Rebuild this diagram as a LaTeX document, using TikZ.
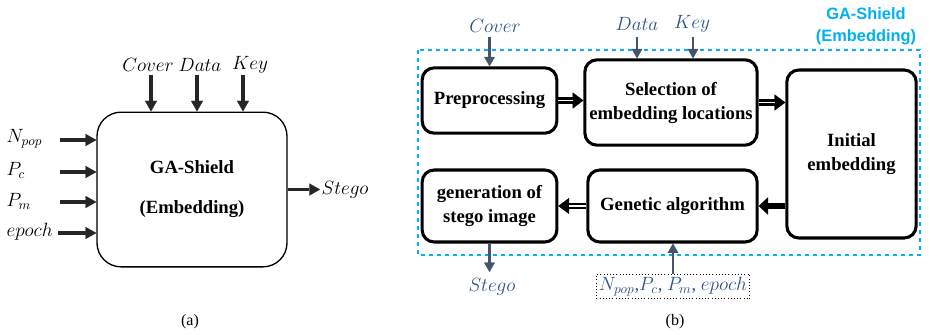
\documentclass[tikz,border=0pt]{standalone}
\usepackage{fontspec}
\setmainfont{Liberation Serif}
\newfontfamily\headfont{Liberation Sans}
\usetikzlibrary{arrows.meta}
\definecolor{gablue}{RGB}{0,176,240}
\definecolor{inarrow}{RGB}{68,84,106}
\definecolor{inlabel}{RGB}{47,84,130}
\begin{document}
\begin{tikzpicture}[x=0.75pt,y=-0.75pt]
        \tikzset{mainbox/.style = {draw, line width=1pt, rounded corners=18pt, align=center,
                 minimum width=142.5pt, minimum height=116pt, font=\fontsize{14}{30}\selectfont\bfseries}};
        \tikzset{blk/.style = {draw, line width=2.3pt, rounded corners=9pt, align=center,
                 font=\fontsize{14}{18}\selectfont\bfseries}};
        \tikzset{lbl/.style = {inner sep=1pt, font=\fontsize{14}{16}\selectfont}};
        \tikzset{lblb/.style = {lbl, text=inlabel}};
        \tikzset{inp/.style = {draw=black!85, line width=2.6pt, -{Triangle[length=8pt,width=9pt,line width=0.1pt]}}};
        \tikzset{inb/.style = {draw=inarrow, line width=1.9pt, -{Triangle[length=7pt,width=8pt,line width=0.1pt]}}};
        \tikzset{dblarr/.style = {line width=5.2pt, -{Triangle[length=8pt,width=12pt,line width=0.1pt]},
                 postaction={draw=white, line width=0.8pt, -, shorten >=8pt}}};
        \tikzset{fatarr/.style = {line width=5.2pt, -{Triangle[length=7pt,width=13pt,line width=0.1pt]}}};
        \useasboundingbox (0,0) rectangle (931,335);
        % (a)
        \node[mainbox] (shield) at (192,189.5) {GA-Shield\\(Embedding)};
        \node[lbl] (coverA) at (148,65) {$Cover$};
        \node[lbl] (dataA) at (200,65) {$Data$};
        \node[lbl] (keyA) at (250,65) {$Key$};
        \coordinate (cA) at (151,75);
        \coordinate (dA) at (197,75);
        \coordinate (kA) at (243,75);
        \draw[inp] (cA) -- (cA |- shield.north);
        \draw[inp] (dA) -- (dA |- shield.north);
        \draw[inp] (kA) -- (kA |- shield.north);
        \node[lbl, anchor=west] (npop) at (5,139) {$N_{pop}$};
        \node[lbl, anchor=west] (pc) at (5,170) {$P_c$};
        \node[lbl, anchor=west] (pm) at (5,201) {$P_m$};
        \node[lbl, anchor=west] (epoch) at (5,232) {$epoch$};
        \coordinate (npA) at (60,140);
        \coordinate (pcA) at (60,172);
        \coordinate (pmA) at (60,202);
        \coordinate (epA) at (58,233);
        \draw[inp] (npA) -- (npA -| shield.west);
        \draw[inp] (pcA) -- (pcA -| shield.west);
        \draw[inp] (pmA) -- (pmA -| shield.west);
        \draw[inp] (epA) -- (epA -| shield.west);
        \coordinate (sA) at (320,189.5);
        \draw[inp, line width=1.9pt] (shield.east) -- (sA);
        \node[lbl, anchor=west] (stegoA) at (sA) {$Stego$};
        \node[font=\fontsize{12}{14}\selectfont] (capA) at (190,322) {(a)};
        % (b)
        \draw[gablue, dashed, line width=1.2pt] (418,50) rectangle (920,255);
        \node[align=center, text=gablue, font=\fontsize{12.3}{16.5}\selectfont\headfont\bfseries] (gahead) at (866,26) {GA-Shield\\(Embedding)};
        \node[blk, minimum width=101pt, minimum height=49pt] (pre) at (489.5,100.5) {Preprocessing};
        \node[blk, minimum width=129pt, minimum height=64pt] (sel) at (671,102.5) {Selection of\\embedding locations};
        \node[blk, minimum width=97pt, minimum height=126pt] (ini) at (851.5,154) {Initial\\embedding};
        \node[blk, minimum width=127pt, minimum height=54pt] (ga) at (672.5,206) {Genetic algorithm};
        \node[blk, minimum width=101pt, minimum height=54pt] (gen) at (489.5,206) {generation of\\stego image};
        \draw[dblarr] (pre.east) -- (pre.east -| sel.west);
        \draw[dblarr] (sel.east) -- (sel.east -| ini.west);
        \draw[fatarr] (ini.west |- ga.east) -- (ga.east);
        \draw[dblarr] (ga.west) -- (gen.east);
        \node[lblb] (coverB) at (495,26) {$Cover$};
        \node[lblb] (dataB) at (637,24) {$Data$};
        \node[lblb] (keyB) at (692,24) {$Key$};
        \coordinate (cB) at (489.5,37);
        \coordinate (dB) at (637,37);
        \coordinate (kB) at (693,37);
        \draw[inb] (cB) -- (pre.north);
        \draw[inb] (dB) -- (dB |- sel.north);
        \draw[inb] (kB) -- (kB |- sel.north);
        \coordinate (sB) at (489.5,272);
        \draw[inb] (gen.south) -- (sB);
        \node[lblb] (stegoB) at (492,287) {$Stego$};
        \node[lblb, draw=black, dotted, inner sep=2pt] (par) at (673,286.5) {$N_{pop}$,$P_c$, $P_m$, $epoch$};
        \draw[inb] (par.north) -- (par.north |- ga.south);
        \node[font=\fontsize{12}{14}\selectfont] (capB) at (675,322) {(b)};
\end{tikzpicture}
\end{document}
